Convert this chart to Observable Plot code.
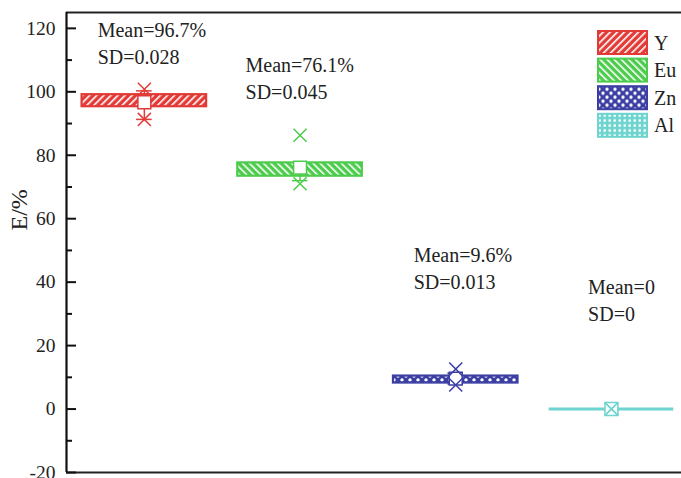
<!DOCTYPE html>
<html>
<head>
<meta charset="utf-8">
<script src="https://cdn.jsdelivr.net/npm/d3@7"></script>
<script src="https://cdn.jsdelivr.net/npm/@observablehq/plot@0.6"></script>
<style>
  body { margin: 0; background: #fff; }
  #chart { width: 681px; height: 478px; }
</style>
</head>
<body>
<div id="chart"></div>
<script>
// Extraction efficiency E (%) per element: box = quartiles, whiskers, 1%/99% crosses, mean square
const categories = ["Y", "Eu", "Zn", "Al"];
const means = [96.7, 76.1, 9.6, 0];
const sds = [0.028, 0.045, 0.013, 0];
const q1 = [95.3, 73.4, 8.2, 0];
const q3 = [99.1, 77.6, 10.4, 0];
const whiskerLow = [91.3, 72.0, 7.9, 0];
const whiskerHigh = [100.3, 77.6, 11.3, 0];
const extremeLow = [91.3, 71.0, 7.6, 0];
const extremeHigh = [100.8, 86.3, 12.6, 0];
const yTicks = [-20, 0, 20, 40, 60, 80, 100, 120];
const yMinorTicks = [-10, 10, 30, 50, 70, 90, 110];

// styling
const colors = ["#e23a36", "#4ccb4c", "#3b3ea2", "#6dd4cf"];
// annotation placement: offset from group centre, y of the Mean line, y of the SD line
const labelDx = [-0.3, -0.35, -0.27, -0.15];
const labelMeanY = [119.4, 108.3, 48.5, 38.4];
const labelSdY = [110.9, 99.8, 40.0, 29.9];

const W = 681, H = 478;
const mL = 66, mR = 0, mT = 12, mB = 6;
const frameW = W - mL - mR;
const halfBox = 0.4, halfCap = 0.05;

const rows = categories.map((c, i) => ({
  cat: c, x: i + 1, mean: means[i], sd: sds[i],
  q1: q1[i], q3: q3[i], wl: whiskerLow[i], wh: whiskerHigh[i],
  el: extremeLow[i], eh: extremeHigh[i],
  color: colors[i], pattern: `url(#pat-${c})`
}));

const serif = "'Liberation Serif', 'Times New Roman', serif";
const textColor = "#222";

const chart = Plot.plot({
  width: W, height: H,
  marginLeft: mL, marginRight: mR, marginTop: mT, marginBottom: mB,
  style: { fontFamily: serif, fontSize: "20px", color: textColor, background: "#fff" },
  x: { domain: [0.5, 4.45], axis: null },
  y: { domain: [-20, 125], axis: null },
  color: { type: "identity" },
  marks: [
    // axis frame: left, top, bottom
    Plot.ruleY([-20, 125], { stroke: "#222", strokeWidth: 2 }),
    Plot.ruleX([0.5], { stroke: "#111", strokeWidth: 2.2 }),
    // inward ticks
    Plot.tickY(yTicks, { y: d => d, insetRight: frameW - 10, stroke: "#111", strokeWidth: 2 }),
    Plot.tickY(yMinorTicks, { y: d => d, insetRight: frameW - 6, stroke: "#111", strokeWidth: 2 }),
    Plot.axisY({ ticks: yTicks, tickSize: 0, tickPadding: 11, fontSize: 19.5, label: null, fill: textColor, tickFormat: d => String(d) }),
    Plot.text(["E/%"], { frameAnchor: "left", rotate: -90, dx: -47, dy: -12, fontSize: 24, fill: textColor }),
    // whiskers and caps
    Plot.ruleX(rows, { x: "x", y1: "q3", y2: "wh", stroke: "color", strokeWidth: 1.5 }),
    Plot.ruleX(rows, { x: "x", y1: "q1", y2: "wl", stroke: "color", strokeWidth: 1.5 }),
    Plot.ruleY(rows, { y: "wh", x1: d => d.x - halfCap, x2: d => d.x + halfCap, stroke: "color", strokeWidth: 1.5 }),
    Plot.ruleY(rows, { y: "wl", x1: d => d.x - halfCap, x2: d => d.x + halfCap, stroke: "color", strokeWidth: 1.5 }),
    // boxes (a box whose quartiles coincide collapses to a line)
    Plot.rect(rows, {
      filter: d => d.q3 > d.q1,
      x1: d => d.x - halfBox, x2: d => d.x + halfBox, y1: "q1", y2: "q3",
      fill: "pattern", stroke: "color", strokeWidth: 2.2
    }),
    Plot.ruleY(rows, {
      filter: d => d.q3 === d.q1,
      y: "q1", x1: d => d.x - halfBox, x2: d => d.x + halfBox, stroke: "color", strokeWidth: 3
    }),
    // mean
    Plot.dot(rows, { x: "x", y: "mean", symbol: "square", r: 7.3, fill: "#fff", stroke: "color", strokeWidth: 1.5 }),
    // extremes
    Plot.dot(rows, { x: "x", y: "eh", symbol: "times", r: 6, stroke: "color", strokeWidth: 1.5 }),
    Plot.dot(rows, { x: "x", y: "el", symbol: "times", r: 6, stroke: "color", strokeWidth: 1.5 }),
    // annotations
    Plot.text(rows, {
      x: rows.map((d, i) => d.x + labelDx[i]), y: labelMeanY,
      text: d => d.mean === 0 ? "Mean=0" : `Mean=${d.mean}%`,
      textAnchor: "start", fontSize: 20, fill: textColor
    }),
    Plot.text(rows, {
      x: rows.map((d, i) => d.x + labelDx[i]), y: labelSdY,
      text: d => `SD=${d.sd}`,
      textAnchor: "start", fontSize: 20, fill: textColor
    })
  ]
});

// fill patterns for the boxes and legend swatches
const svg = d3.select(chart);
const defs = svg.insert("defs", ":first-child");
function stripes(id, color, angle) {
  const p = defs.append("pattern").attr("id", id).attr("patternUnits", "userSpaceOnUse")
    .attr("width", 5).attr("height", 5).attr("patternTransform", `rotate(${angle})`);
  p.append("rect").attr("width", 5).attr("height", 5).attr("fill", color);
  p.append("rect").attr("x", 0).attr("width", 1.6).attr("height", 5).attr("fill", "#fff");
}
stripes("pat-Y", colors[0], 45);
stripes("pat-Eu", colors[1], -45);
{
  const p = defs.append("pattern").attr("id", "pat-Zn").attr("patternUnits", "userSpaceOnUse")
    .attr("width", 8).attr("height", 8).attr("y", 2);
  p.append("rect").attr("width", 8).attr("height", 8).attr("fill", colors[2]);
  p.append("circle").attr("cx", 2).attr("cy", 2).attr("r", 1.7).attr("fill", "#fff");
  p.append("circle").attr("cx", 6).attr("cy", 6).attr("r", 1.7).attr("fill", "#fff");
}
{
  const p = defs.append("pattern").attr("id", "pat-Al").attr("patternUnits", "userSpaceOnUse")
    .attr("width", 5).attr("height", 5);
  p.append("rect").attr("width", 5).attr("height", 5).attr("fill", colors[3]);
  p.append("rect").attr("x", 1.5).attr("y", 1.5).attr("width", 2.4).attr("height", 2.4).attr("fill", "#fff");
}

// legend, top right
const legend = svg.append("g").attr("transform", "translate(597,30)");
rows.forEach((d, i) => {
  const g = legend.append("g").attr("transform", `translate(0,${i * 27.6})`);
  g.append("rect").attr("x", 1).attr("y", 1).attr("width", 49).attr("height", 23)
    .attr("fill", d.pattern).attr("stroke", d.color).attr("stroke-width", 2);
  g.append("text").attr("x", 57).attr("y", 12.5).attr("dy", "0.35em")
    .attr("text-anchor", "start")
    .style("font-family", serif).style("font-size", "20px").style("fill", textColor).text(d.cat);
});

document.getElementById("chart").appendChild(chart);
</script>
</body>
</html>
